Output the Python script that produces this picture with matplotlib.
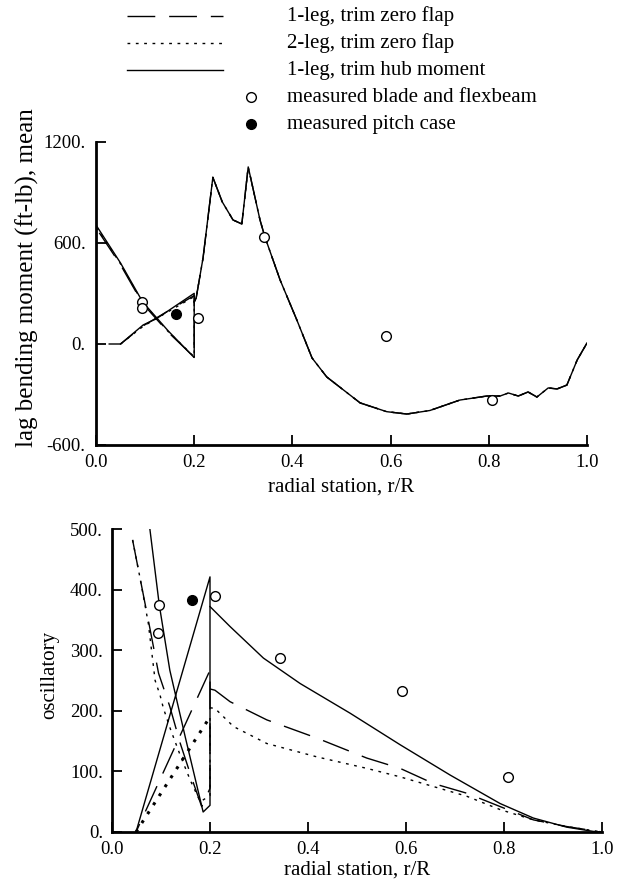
import matplotlib
matplotlib.use('Agg')
import matplotlib.pyplot as plt

plt.rcParams['font.family'] = ['Liberation Serif', 'DejaVu Serif']

# ---------------- top panel: mean lag bending moment (ft-lb) ----------------
# flexbeam (0 -> 0.2), pitch case (root -> 0.2), blade (0.2 -> 1.0)
top_flex_r_1z = [0.0, 0.05, 0.095, 0.147, 0.2]
top_flex_m_1z = [690, 470, 240, 70, -78]
top_pitch_r_1z = [0.0, 0.05, 0.096, 0.2]
top_pitch_m_1z = [0, 0, 108, 288]

top_flex_r_2z = [0.0, 0.05, 0.095, 0.147, 0.2]
top_flex_m_2z = [698, 476, 245, 74, -76]
top_pitch_r_2z = [0.05, 0.096, 0.2]
top_pitch_m_2z = [0, 105, 282]

top_flex_r_hub = [0.0, 0.05, 0.095, 0.147, 0.198, 0.2]
top_flex_m_hub = [707, 481, 250, 78, -75, -80]
top_pitch_r_hub = [0.05, 0.096, 0.124, 0.2]
top_pitch_m_hub = [0, 113, 152, 301]

top_blade_r = [0.2, 0.204, 0.218, 0.238, 0.257, 0.279, 0.297, 0.31, 0.334, 0.344,
               0.375, 0.409, 0.44, 0.47, 0.538, 0.592, 0.633, 0.68, 0.741, 0.796,
               0.823, 0.84, 0.86, 0.88, 0.898, 0.921, 0.939, 0.959, 0.98, 1.0]
top_blade_m = [250, 273, 511, 990, 845, 737, 713, 1052, 737, 636,
               380, 143, -83, -196, -350, -402, -416, -395, -333, -309,
               -309, -291, -309, -285, -315, -261, -267, -244, -95, 6]

top_meas_r = [0.093, 0.094, 0.208, 0.342, 0.59, 0.806]
top_meas_m = [251, 216, 153, 636, 48, -333]
top_pitch_meas_r = [0.163]
top_pitch_meas_m = [178]

# ---------------- bottom panel: oscillatory ----------------
bot_flex_r_1z = [0.042, 0.057, 0.074, 0.095, 0.118, 0.139, 0.163, 0.183, 0.2]
bot_flex_v_1z = [482, 420, 350, 262, 207, 147, 88, 42, 72]
bot_pitch_r_1z = [0.049, 0.2]
bot_pitch_v_1z = [0, 267]
bot_blade_r_1z = [0.2, 0.21, 0.241, 0.316, 0.418, 0.52, 0.588, 0.656, 0.724, 0.792, 0.86, 0.928, 1.0]
bot_blade_v_1z = [236, 234, 215, 185, 155, 122, 105, 80, 64, 42, 20, 9, 0]

bot_flex_r_2z = [0.042, 0.057, 0.074, 0.088, 0.098, 0.105, 0.12, 0.14, 0.16, 0.18, 0.2]
bot_flex_v_2z = [482, 420, 345, 250, 226, 204, 168, 125, 85, 50, 60]
bot_pitch_r_2z = [0.049, 0.2]
bot_pitch_v_2z = [0, 190]
bot_blade_r_2z = [0.2, 0.21, 0.248, 0.316, 0.418, 0.52, 0.588, 0.656, 0.724, 0.792, 0.86, 0.928, 1.0]
bot_blade_v_2z = [205, 204, 174, 146, 124, 105, 91, 75, 59, 37, 20, 9, 0]

bot_flex_r_hub = [0.07, 0.0776, 0.0966, 0.118, 0.15, 0.186, 0.2]
bot_flex_v_hub = [548, 498, 374, 267, 155, 33, 44]
bot_pitch_r_hub = [0.049, 0.2]
bot_pitch_v_hub = [0, 421]
bot_blade_r_hub = [0.2, 0.241, 0.309, 0.384, 0.486, 0.588, 0.69, 0.792, 0.86, 0.928, 0.982, 1.0]
bot_blade_v_hub = [372, 339, 287, 245, 196, 144, 94, 47, 23, 8, 1, 0]

bot_meas_r = [0.0966, 0.0946, 0.21, 0.343, 0.591, 0.809]
bot_meas_v = [374, 328, 389, 287, 232, 90]
bot_pitch_meas_r = [0.163]
bot_pitch_meas_v = [383]

x_ticks = [0.0, 0.2, 0.4, 0.6, 0.8, 1.0]
x_ticklabels = ['0.0', '0.2', '0.4', '0.6', '0.8', '1.0']
top_yticks = [-600, 0, 600, 1200]
top_yticklabels = ['-600.', '0.', '600.', '1200.']
bot_yticks = [0, 100, 200, 300, 400, 500]
bot_yticklabels = ['0.', '100.', '200.', '300.', '400.', '500.']

legend_labels = ['1-leg, trim zero flap', '2-leg, trim zero flap', '1-leg, trim hub moment',
                 'measured blade and flexbeam', 'measured pitch case']

W, H = 621, 892
fig = plt.figure(figsize=(W / 100, H / 100), dpi=100)

DASH = dict(color='black', lw=1.0, linestyle=(0, (20, 10)))
DASH_ROOT = dict(color='black', lw=1.0, linestyle=(21, (20, 10)))
DOT = dict(color='black', lw=1.0, linestyle=(0, (2, 4)))
SOLID = dict(color='black', lw=1.0, linestyle='-')
LBL = 15
TCK = 13.5


def style_axes(ax, yticks, yticklabels, ylabel, ylab_size, ylab_xy, xlab_xy, ypad):
    for s in ['top', 'right']:
        ax.spines[s].set_visible(False)
    for s in ['left', 'bottom']:
        ax.spines[s].set_linewidth(2.0)
    ax.set_xlim(0, 1)
    ax.set_xticks(x_ticks)
    ax.set_xticklabels(x_ticklabels)
    ax.set_yticks(yticks)
    ax.set_yticklabels(yticklabels)
    ax.tick_params(direction='in', length=7, width=1.3, labelsize=TCK)
    ax.tick_params(axis='x', pad=6.5)
    ax.tick_params(axis='y', pad=ypad)
    ax.set_xlabel('radial station, r/R', fontsize=LBL)
    ax.set_ylabel(ylabel, fontsize=ylab_size)
    ax.xaxis.set_label_coords(*xlab_xy)
    ax.yaxis.set_label_coords(*ylab_xy)
    ax.xaxis.label.set_va('center')
    ax.yaxis.label.set_va('center')


# top axes: px left 96 right 587 top 142 bottom 445
ax1 = fig.add_axes([96 / W, 1 - 445 / H, 491 / W, 303 / H])
# each root-region path: pitch case outward, vertical at r=0.2, flexbeam back inward
ax1.plot(top_pitch_r_1z + top_flex_r_1z[::-1], top_pitch_m_1z + top_flex_m_1z[::-1], **DASH_ROOT)
ax1.plot(top_blade_r, top_blade_m, **DASH)
ax1.plot(top_pitch_r_2z + top_flex_r_2z[::-1], top_pitch_m_2z + top_flex_m_2z[::-1], **DOT)
ax1.plot(top_blade_r, top_blade_m, **DOT)
ax1.plot(top_pitch_r_hub + top_flex_r_hub[::-1], top_pitch_m_hub + top_flex_m_hub[::-1], **SOLID)
ax1.plot(top_blade_r, top_blade_m, **SOLID)
ax1.plot(top_meas_r, top_meas_m, 'o', ms=7, mfc='white', mec='black', mew=1.0)
ax1.plot(top_pitch_meas_r, top_pitch_meas_m, 'o', ms=7, mfc='black', mec='black')
ax1.set_ylim(-600, 1200)
style_axes(ax1, top_yticks, top_yticklabels, 'lag bending moment (ft-lb), mean', 18,
           ((27 - 96) / 491, (445 - 278) / 303), (0.5, (445 - 487) / 303), 7.5)

# bottom axes: px left 112 right 602 top 529 bottom 832
ax2 = fig.add_axes([112 / W, 1 - 832 / H, 490 / W, 303 / H])
ax2.plot(bot_flex_r_1z + bot_pitch_r_1z[::-1], bot_flex_v_1z + bot_pitch_v_1z[::-1], **DASH)
ax2.plot(bot_blade_r_1z, bot_blade_v_1z, **DASH)
ax2.plot(bot_flex_r_2z + bot_pitch_r_2z[-1:], bot_flex_v_2z + bot_pitch_v_2z[-1:], **DOT)
ax2.plot(bot_pitch_r_2z, bot_pitch_v_2z, color='black', lw=2.2, linestyle=(0, (1, 2.5)))
ax2.plot(bot_blade_r_2z, bot_blade_v_2z, **DOT)
ax2.plot(bot_flex_r_hub + bot_pitch_r_hub[::-1], bot_flex_v_hub + bot_pitch_v_hub[::-1], **SOLID)
ax2.plot(bot_blade_r_hub, bot_blade_v_hub, **SOLID)
ax2.plot(bot_meas_r, bot_meas_v, 'o', ms=7, mfc='white', mec='black', mew=1.0, clip_on=False)
ax2.plot(bot_pitch_meas_r, bot_pitch_meas_v, 'o', ms=7, mfc='black', mec='black')
ax2.set_ylim(0, 500)
style_axes(ax2, bot_yticks, bot_yticklabels, 'oscillatory', LBL,
           ((50 - 112) / 490, (832 - 675) / 303), (0.5, (832 - 870) / 303), 6.5)

# legend drawn in pixel coordinates on an overlay
lg = fig.add_axes([0, 0, 1, 1], facecolor='none')
lg.set_xlim(0, W)
lg.set_ylim(H, 0)
lg.axis('off')
rows = [16, 43, 70, 97, 124]
lg.plot([127, 223], [rows[0]] * 2, **DASH)
lg.plot([127, 223], [rows[1]] * 2, **DOT)
lg.plot([127, 223], [rows[2]] * 2, **SOLID)
lg.plot([251], [rows[3]], 'o', ms=7, mfc='white', mec='black', mew=1.0)
lg.plot([251], [rows[4]], 'o', ms=7, mfc='black', mec='black')
for yy, txt in zip(rows, legend_labels):
    lg.text(287, yy, txt, fontsize=LBL, ha='left', va='center')

fig.savefig('out.png', dpi=100)
